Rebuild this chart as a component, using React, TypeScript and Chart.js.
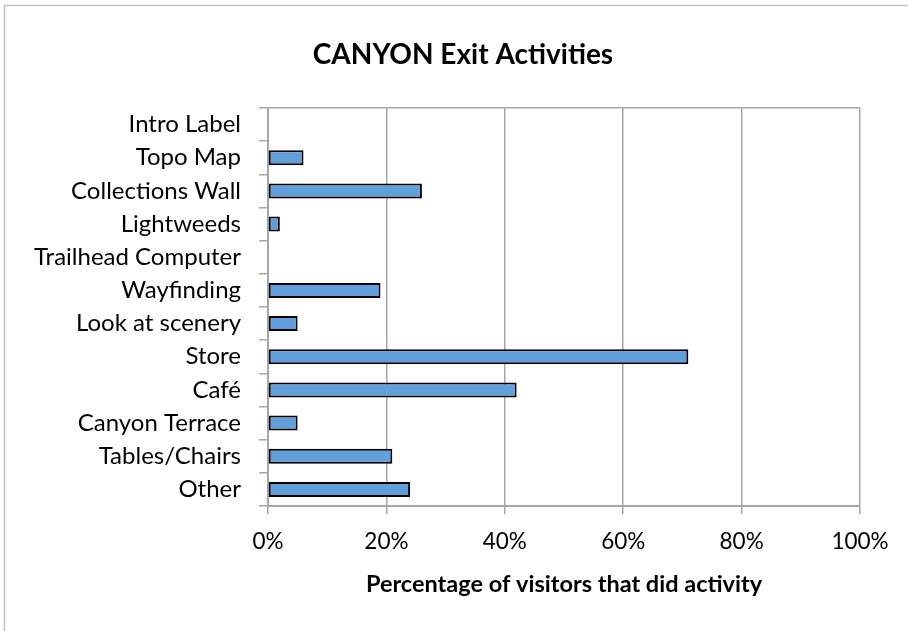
import React, { useEffect, useRef } from "react";
import { Chart, registerables } from "chart.js";

Chart.register(...registerables);

const categories = [
  "Intro Label",
  "Topo Map",
  "Collections Wall",
  "Lightweeds",
  "Trailhead Computer",
  "Wayfinding",
  "Look at scenery",
  "Store",
  "Café",
  "Canyon Terrace",
  "Tables/Chairs",
  "Other",
];
const percentVisitors = [0, 6, 26, 2, 0, 19, 5, 71, 42, 5, 21, 24];
const xTickValues = [0, 20, 40, 60, 80, 100];
const chartTitle = "CANYON Exit Activities";
const xAxisTitle = "Percentage of visitors that did activity";

const FONT = "Lato, 'Liberation Sans', sans-serif";
const GRID = "#a6a6a6";

const framePlugin = {
  id: "frame",
  beforeDraw(chart: any) {
    const ctx = chart.ctx;
    ctx.save();
    ctx.fillStyle = "#ffffff";
    ctx.fillRect(0, 0, chart.width, chart.height);
    ctx.strokeStyle = "#bfbfbf";
    ctx.lineWidth = 1.5;
    ctx.strokeRect(4.5, 5.5, 2000, 2000);
    ctx.restore();
  },
};

export default function App() {
  const ref = useRef<HTMLCanvasElement>(null);
  useEffect(() => {
    if (!ref.current) return;
    const chart = new Chart(ref.current, {
      type: "bar",
      data: {
        labels: categories,
        datasets: [
          {
            data: percentVisitors,
            backgroundColor: "#609FDB",
            borderColor: "#000000",
            borderWidth: 2,
            borderSkipped: false,
            barPercentage: 0.45,
            categoryPercentage: 1,
          },
        ],
      },
      options: {
        indexAxis: "y",
        responsive: false,
        animation: false,
        layout: { padding: { left: 20, right: 2, top: 35, bottom: 0 } },
        plugins: {
          legend: { display: false },
          tooltip: { enabled: false },
          title: {
            display: true,
            text: chartTitle,
            color: "#000",
            font: { family: FONT, size: 28, weight: "bold" },
            padding: { top: 2.7, bottom: 36.7 },
          },
        },
        scales: {
          x: {
            min: 0,
            max: 100,
            afterBuildTicks: (s: any) => {
              s.ticks = xTickValues.map((v) => ({ value: v }));
            },
            afterFit: (s: any) => {
              s.paddingLeft = 0;
              s.paddingRight = 48;
              s.height = 125;
            },
            ticks: {
              callback: (v: any) => v + "%",
              color: "#000",
              font: { family: FONT, size: 22.5 },
              padding: 14.5,
              maxRotation: 0,
            },
            grid: { color: GRID, lineWidth: 1.5, tickLength: 8 },
            border: { color: GRID, width: 2 },
            title: {
              display: true,
              text: xAxisTitle,
              color: "#000",
              font: { family: FONT, size: 23.5, weight: "bold" },
              padding: { top: 0, bottom: 32.9 },
            },
          },
          y: {
            afterFit: (s: any) => {
              s.width = 248;
              s.paddingTop = 0;
              s.paddingBottom = 0;
            },
            ticks: {
              color: "#000",
              font: { family: FONT, size: 24 },
              padding: 18,
              autoSkip: false,
            },
            grid: {
              drawOnChartArea: true,
              tickLength: 9,
              lineWidth: 1.5,
              color: (c: any) => (c.index === 0 ? GRID : "rgba(0,0,0,0)"),
              tickColor: GRID,
              offset: true,
            },
            border: { color: GRID, width: 2 },
          },
        },
      },
      plugins: [framePlugin],
    } as any);
    return () => chart.destroy();
  }, []);
  return (
    <div style={{ position: "fixed", left: 0, top: 0, width: 908, height: 631 }}>
      <canvas ref={ref} width={908} height={631} />
    </div>
  );
}
